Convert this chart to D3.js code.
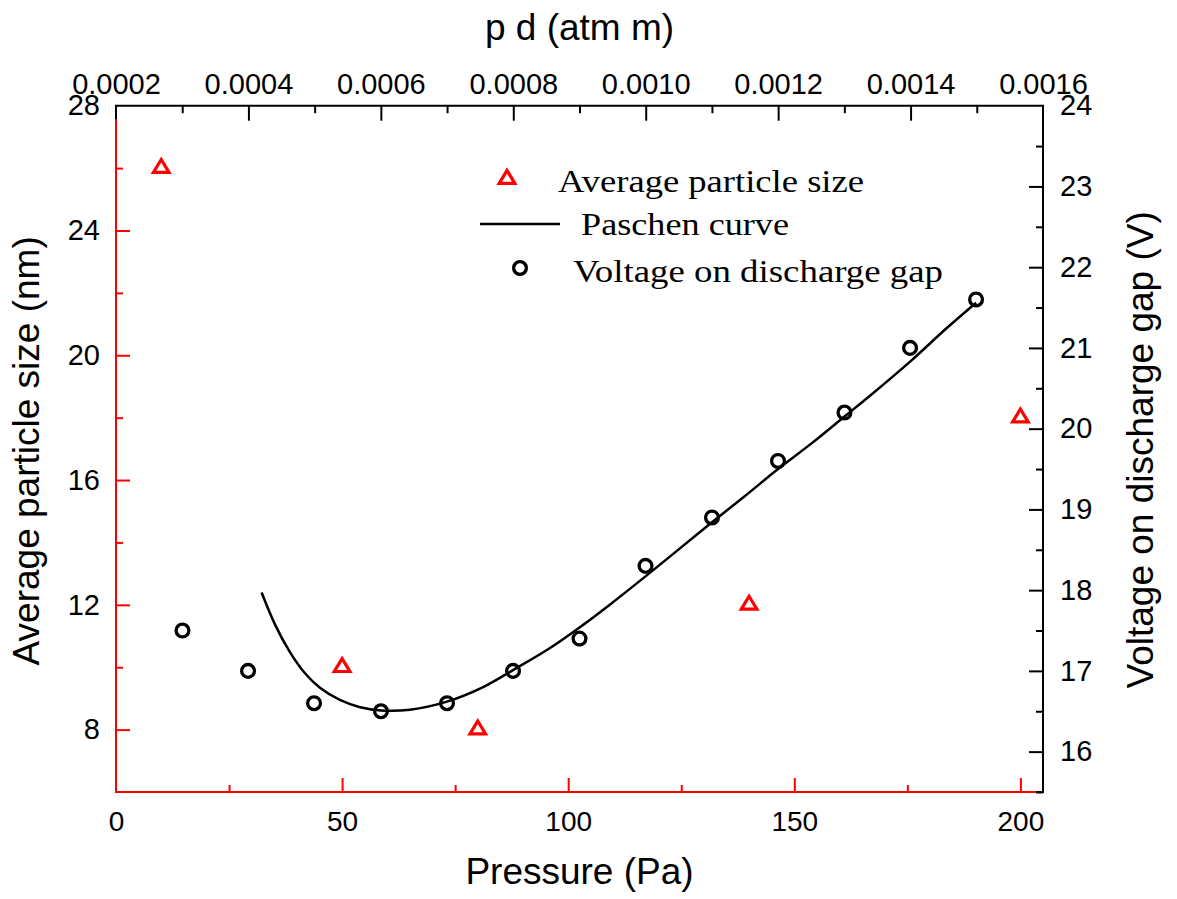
<!DOCTYPE html>
<html>
<head>
<meta charset="utf-8">
<script src="https://cdn.jsdelivr.net/npm/d3@7"></script>
<style>
  body { margin: 0; background: #fff; }
  svg { display: block; }
  .tick text { font-family: "Liberation Sans", Arial, sans-serif; fill: #000; }
  .title { font-family: "Liberation Sans", Arial, sans-serif; font-size: 37px; fill: #000; }
  .legend text { font-family: "Liberation Serif", "Times New Roman", serif; font-size: 32px; fill: #000; }
</style>
</head>
<body>
<div id="chart"></div>
<script>
// Particle size and discharge voltage vs. pressure, Paschen fit on the right axis.

// average particle size (left axis, nm)
const sizePressure = [10, 50, 80, 140, 200];
const sizeNm = [26, 10, 8, 12, 18];

// voltage on the discharge gap (right axis, V)
const voltPressure = [14.7, 29.2, 43.8, 58.6, 73.2, 87.8, 102.5, 117.1, 131.8, 146.4, 161.1, 175.6, 190.2];
const voltValues = [17.5, 17.0, 16.6, 16.5, 16.6, 17.0, 17.4, 18.3, 18.9, 19.6, 20.2, 21.0, 21.6];

// Paschen curve
const paschenPressure = [32.2, 35.2, 38.5, 41.8, 45.1, 49.5, 54.0, 58.6, 65.0, 73.2, 81.2, 87.8, 95.9, 103.3,
                         109.2, 117.3, 123.9, 132.0, 139.4, 146.4, 154.1, 161.1, 167.0, 175.8, 183.6, 190.2];
const paschenVolt = [17.97, 17.57, 17.23, 16.97, 16.79, 16.64, 16.55, 16.51, 16.52, 16.62, 16.80, 17.01, 17.28, 17.57,
                     17.82, 18.18, 18.48, 18.85, 19.18, 19.50, 19.83, 20.15, 20.42, 20.84, 21.24, 21.56];

// ticks
const xMajor = [50, 100, 150, 200], xMinor = [25, 75, 125, 175], xLabels = [0, 50, 100, 150, 200];
const leftMajor = [8, 12, 16, 20, 24], leftMinor = [10, 14, 18, 22, 26], leftLabels = [8, 12, 16, 20, 24, 28];
const rightMajor = [16, 17, 18, 19, 20, 21, 22, 23], rightMinor = [15.5, 16.5, 17.5, 18.5, 19.5, 20.5, 21.5, 22.5, 23.5];
const rightLabels = [16, 17, 18, 19, 20, 21, 22, 23, 24];
const topMajor = [0.0004, 0.0006, 0.0008, 0.0010, 0.0012, 0.0014], topMinor = [0.0003, 0.0005, 0.0007, 0.0009, 0.0011, 0.0013, 0.0015];
const topLabels = [0.0002, 0.0004, 0.0006, 0.0008, 0.0010, 0.0012, 0.0014, 0.0016];

const W = 1177, H = 899;
const L = 116, R = 1043, T = 105.7, B = 792;
const RED = "#ff0000";

const svg = d3.select("#chart").append("svg").attr("width", W).attr("height", H);

const x = d3.scaleLinear().domain([0, 205]).range([L, R]);
const xTop = d3.scaleLinear().domain([0.0002, 0.0016]).range([L, R]);
const yL = d3.scaleLinear().domain([6, 28]).range([B, T]);
const yR = d3.scaleLinear().domain([15.5, 24]).range([B, T]);

// axis helper: ticks only, no domain line
function ax(gen, scale, values, size, pad, fmt, color, fontSize, at){
  const g = svg.append("g").attr("transform", at)
    .call(gen(scale).tickValues(values).tickSizeInner(-size).tickSizeOuter(0)
      .tickPadding(pad).tickFormat(fmt));
  g.select(".domain").remove();
  g.selectAll(".tick line").attr("stroke", color).attr("stroke-width", 2);
  g.selectAll(".tick text").style("font-size", fontSize + "px");
  return g;
}
const none = () => "";

// bottom (red)
ax(d3.axisBottom, x, xMajor, 14, 0, none, RED, 28, `translate(0,${B})`);
ax(d3.axisBottom, x, xMinor, 7, 0, none, RED, 28, `translate(0,${B})`);
ax(d3.axisBottom, x, xLabels, 0, 19, d3.format("d"), RED, 28, `translate(0,${B})`);
// left (red)
ax(d3.axisLeft, yL, leftMajor, 14, 0, none, RED, 29, `translate(${L},0)`);
ax(d3.axisLeft, yL, leftMinor, 7, 0, none, RED, 29, `translate(${L},0)`);
ax(d3.axisLeft, yL, leftLabels, 0, 16, d3.format("d"), RED, 29, `translate(${L},0)`);
// right (black)
ax(d3.axisRight, yR, rightMajor, 14, 0, none, "#000", 29, `translate(${R},0)`);
ax(d3.axisRight, yR, rightMinor, 7, 0, none, "#000", 29, `translate(${R},0)`);
ax(d3.axisRight, yR, rightLabels, 0, 17, d3.format("d"), "#000", 29, `translate(${R},0)`);
// top (black)
ax(d3.axisTop, xTop, topMajor, 15, 0, none, "#000", 29, `translate(0,${T})`);
ax(d3.axisTop, xTop, topMinor, 7.5, 0, none, "#000", 29, `translate(0,${T})`);
ax(d3.axisTop, xTop, topLabels, 0, 12, d3.format(".4f"), "#000", 29, `translate(0,${T})`);

// frame: black top/right, red bottom/left
const frame = svg.append("g").attr("stroke-width", 2).attr("fill", "none");
frame.append("path").attr("stroke", "#000")
  .attr("d", `M${x(0)},${yL(27.55)}V${T}H${R}V${B}H${x(203.4)}`);
frame.append("path").attr("stroke", RED)
  .attr("d", `M${x(0)},${yL(27.55)}V${B}H${x(203.4)}`);

// Paschen curve
const line = d3.line().x(d => x(d[0])).y(d => yR(d[1])).curve(d3.curveCatmullRom.alpha(0.5));
svg.append("path").datum(d3.zip(paschenPressure, paschenVolt))
  .attr("d", line).attr("fill", "none").attr("stroke", "#000").attr("stroke-width", 2.5);

// triangle marker, centred on its centroid
const tri = { draw(ctx){ ctx.moveTo(0, -8.6); ctx.lineTo(7.8, 4.3); ctx.lineTo(-7.8, 4.3); ctx.closePath(); } };
const triPath = d3.symbol().type(tri)();

svg.append("g").selectAll("path").data(d3.zip(sizePressure, sizeNm)).join("path")
  .attr("d", triPath)
  .attr("transform", d => `translate(${x(d[0])},${yL(d[1])})`)
  .attr("fill", "none").attr("stroke", RED).attr("stroke-width", 3.2);

svg.append("g").selectAll("circle").data(d3.zip(voltPressure, voltValues)).join("circle")
  .attr("cx", d => x(d[0])).attr("cy", d => yR(d[1])).attr("r", 6.4)
  .attr("fill", "none").attr("stroke", "#000").attr("stroke-width", 3.3);

// axis titles
svg.append("text").attr("class", "title").attr("x", (L + R) / 2).attr("y", 884)
  .attr("text-anchor", "middle").text("Pressure (Pa)");
svg.append("text").attr("class", "title").attr("x", (L + R) / 2).attr("y", 40)
  .attr("text-anchor", "middle").text("p d (atm m)");
svg.append("text").attr("class", "title").attr("text-anchor", "middle")
  .attr("transform", `translate(38.5,${(T + B) / 2 + 2}) rotate(-90)`).text("Average particle size (nm)");
svg.append("text").attr("class", "title").attr("text-anchor", "middle")
  .attr("transform", `translate(1153,${(T + B) / 2 + 1}) rotate(-90)`).text("Voltage on discharge gap (V)");

// legend
const lg = svg.append("g").attr("class", "legend");
lg.append("path").attr("d", triPath).attr("transform", "translate(507,179)")
  .attr("fill", "none").attr("stroke", RED).attr("stroke-width", 3.2);
lg.append("text").attr("x", 558).attr("y", 192).attr("textLength", 306).attr("lengthAdjust", "spacingAndGlyphs")
  .text("Average particle size");
lg.append("line").attr("x1", 480).attr("x2", 560).attr("y1", 224).attr("y2", 224)
  .attr("stroke", "#000").attr("stroke-width", 2.5);
lg.append("text").attr("x", 581).attr("y", 235).attr("textLength", 208).attr("lengthAdjust", "spacingAndGlyphs")
  .text("Paschen curve");
lg.append("circle").attr("cx", 520).attr("cy", 268).attr("r", 6.4)
  .attr("fill", "none").attr("stroke", "#000").attr("stroke-width", 3.3);
lg.append("text").attr("x", 573).attr("y", 282).attr("textLength", 370).attr("lengthAdjust", "spacingAndGlyphs")
  .text("Voltage on discharge gap");
</script>
</body>
</html>
